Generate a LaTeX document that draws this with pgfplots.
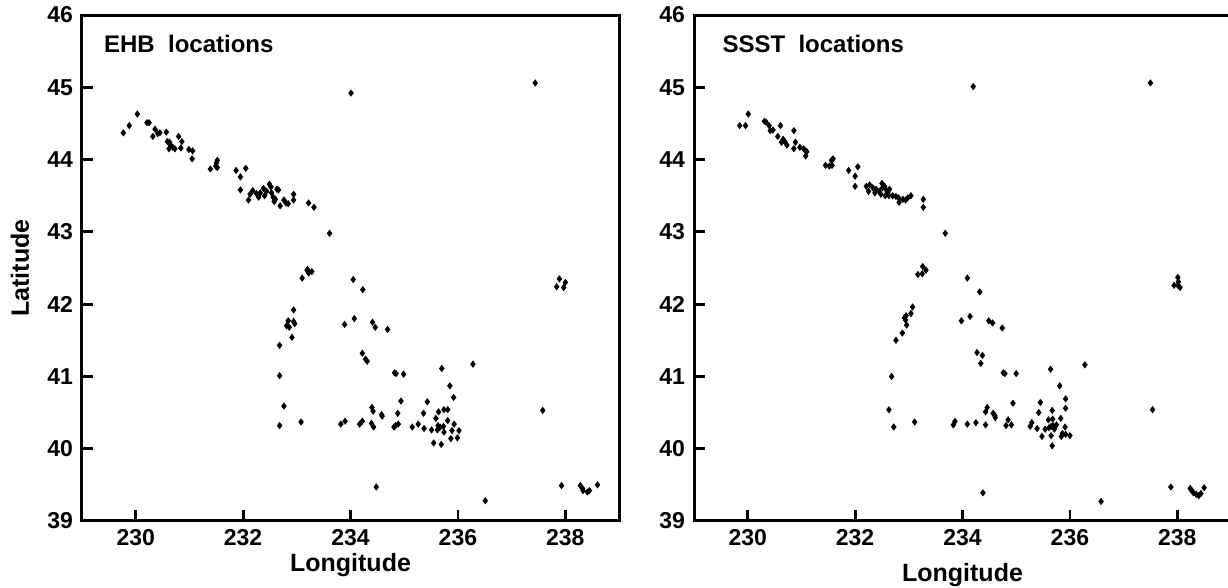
\documentclass[border=0pt]{standalone}
\usepackage{fontspec}
\setmainfont{Liberation Sans}
\usepackage{pgfplots}
\pgfplotsset{compat=1.18}
\usepackage{pgfplotstable}

\pgfplotstableread{
x y
229.77 44.37
229.88 44.47
230.03 44.63
230.21 44.51
230.25 44.51
230.36 44.42
230.32 44.32
230.41 44.36
230.45 44.37
230.57 44.38
230.59 44.25
230.63 44.24
230.65 44.20
230.62 44.15
230.69 44.17
230.73 44.15
230.80 44.32
230.86 44.25
230.84 44.16
230.99 44.14
231.06 44.12
231.05 44.01
231.39 43.87
231.50 43.95
231.52 43.99
231.49 43.91
231.52 43.89
231.87 43.85
231.95 43.76
232.05 43.88
231.95 43.58
232.10 43.44
232.13 43.52
232.18 43.57
232.25 43.53
232.29 43.48
232.32 43.54
232.38 43.60
232.40 43.50
232.44 43.56
232.49 43.66
232.52 43.62
232.53 43.54
232.56 43.48
232.58 43.42
232.63 43.59
232.66 43.58
232.60 43.45
232.69 43.36
232.76 43.44
232.80 43.40
232.84 43.39
232.94 43.44
232.94 43.52
233.22 43.40
233.32 43.34
233.61 42.98
234.01 44.92
237.44 45.06
233.20 42.48
233.22 42.43
233.28 42.45
233.19 42.47
233.10 42.36
234.05 42.34
234.23 42.20
232.94 41.92
232.84 41.77
232.94 41.76
232.96 41.73
232.81 41.70
232.86 41.68
232.91 41.54
232.68 41.43
232.68 41.01
233.89 41.72
234.07 41.80
234.41 41.75
234.46 41.68
234.69 41.65
234.22 41.32
234.28 41.24
234.31 41.21
234.82 41.05
234.85 41.04
234.99 41.03
235.70 41.11
236.28 41.17
235.85 40.87
235.92 40.71
232.76 40.59
233.08 40.37
232.68 40.32
233.82 40.34
233.90 40.38
234.17 40.34
234.22 40.38
234.40 40.57
234.42 40.52
234.39 40.35
234.43 40.30
234.58 40.47
234.59 40.45
234.94 40.66
234.88 40.49
234.81 40.30
234.84 40.32
234.89 40.34
235.15 40.30
235.26 40.34
235.37 40.28
235.43 40.65
235.36 40.49
235.51 40.26
235.59 40.42
235.64 40.51
235.74 40.54
235.81 40.54
235.63 40.32
235.62 40.26
235.67 40.30
235.73 40.31
235.74 40.23
235.81 40.39
235.89 40.25
235.93 40.34
236.02 40.25
235.87 40.14
235.99 40.15
235.55 40.08
235.69 40.06
234.48 39.47
236.51 39.28
237.89 42.35
238.00 42.30
237.84 42.24
237.97 42.23
237.58 40.53
237.93 39.49
238.28 39.49
238.32 39.45
238.33 39.42
238.41 39.40
238.45 39.42
238.60 39.50
}\ehb

\pgfplotstableread{
x y
229.85 44.47
229.96 44.47
230.01 44.63
230.31 44.53
230.34 44.52
230.40 44.47
230.42 44.40
230.47 44.41
230.56 44.32
230.61 44.47
230.63 44.24
230.66 44.28
230.69 44.25
230.73 44.20
230.86 44.40
230.89 44.24
230.86 44.15
230.97 44.17
231.04 44.15
231.08 44.12
231.10 44.11
231.08 44.05
231.45 43.92
231.52 43.91
231.56 43.99
231.59 44.01
231.57 43.92
231.88 43.85
232.00 43.77
232.05 43.90
232.00 43.63
232.21 43.63
232.27 43.65
232.25 43.56
232.33 43.61
232.37 43.54
232.39 43.59
232.45 43.56
232.50 43.67
232.51 43.61
232.55 43.63
232.58 43.58
232.48 43.52
232.56 43.50
232.61 43.54
232.64 43.59
232.63 43.50
232.70 43.50
232.76 43.49
232.81 43.47
232.82 43.41
232.89 43.45
232.94 43.44
232.98 43.47
233.04 43.50
233.27 43.45
233.27 43.34
233.68 42.98
234.20 45.01
237.50 45.06
233.26 42.52
233.32 42.47
233.25 42.42
233.17 42.41
234.09 42.36
234.32 42.17
233.07 41.96
233.04 41.87
232.95 41.84
232.92 41.81
232.94 41.78
232.96 41.71
232.88 41.60
232.76 41.50
232.68 41.00
233.98 41.77
234.14 41.83
234.49 41.77
234.56 41.74
234.74 41.67
234.27 41.33
234.37 41.29
234.34 41.18
234.76 41.05
234.79 41.04
235.00 41.04
235.64 41.10
236.28 41.16
235.81 40.87
235.92 40.69
235.92 40.56
232.63 40.54
232.72 40.30
233.11 40.37
233.83 40.33
233.86 40.38
234.09 40.34
234.25 40.36
234.43 40.33
234.43 40.51
234.46 40.57
234.57 40.49
234.60 40.46
234.61 40.43
234.81 40.32
234.85 40.40
234.91 40.33
234.94 40.63
235.26 40.31
235.29 40.36
235.39 40.28
235.42 40.50
235.45 40.64
235.48 40.17
235.54 40.27
235.60 40.40
235.67 40.53
235.68 40.41
235.61 40.29
235.65 40.31
235.69 40.32
235.71 40.27
235.75 40.33
235.65 40.18
235.67 40.04
235.83 40.42
235.84 40.17
235.86 40.21
235.91 40.30
235.92 40.20
236.00 40.18
234.38 39.39
236.58 39.27
237.54 40.54
237.88 39.47
238.24 39.45
238.27 39.42
238.30 39.39
238.35 39.37
238.40 39.35
238.44 39.38
238.50 39.46
238.01 42.37
238.02 42.31
237.94 42.26
238.01 42.26
238.05 42.23
}\ssst

\pgfplotsset{
  mapstyle/.style={
    scale only axis, width=268.5pt, height=253pt,
    xmin=229, xmax=239, ymin=39, ymax=46,
    xtick={230,232,...,238}, ytick={39,...,46},
    xtick pos=left, ytick pos=left, tick align=inside,
    major tick length=5.5pt,
    axis line style={line width=1.5pt},
    every tick/.style={black, line width=1.4pt},
    /pgf/number format/assume math mode=true,
    /pgf/number format/1000 sep={},
    tick label style={font=\bfseries\fontsize{11.5}{13}\selectfont},
    x tick label style={yshift=-0.5pt},
    y tick label style={xshift=-1pt},
  },
  pts/.style={only marks, mark=diamond*, mark size=1.5pt, black},
}

\begin{document}
\begin{tikzpicture}
\useasboundingbox (0,0) rectangle (614pt,294pt);
\begin{axis}[mapstyle, name=left, at={(41pt,33.5pt)}, anchor=south west]
  \addplot[pts] table[x=x,y=y] {\ehb};
  \node[anchor=west, font=\bfseries\fontsize{12}{14}\selectfont] at (axis description cs:0.028,0.943) {EHB\ \ locations};
\end{axis}
\node[font=\bfseries\fontsize{12.5}{14}\selectfont] at ([yshift=-22pt]left.south) {Longitude};
\node[rotate=90, font=\bfseries\fontsize{12.5}{14}\selectfont] at ([xshift=-31pt]left.west) {Latitude};
\begin{axis}[mapstyle, name=right, at={(347pt,33.5pt)}, anchor=south west]
  \addplot[pts] table[x=x,y=y] {\ssst};
  \node[anchor=west, font=\bfseries\fontsize{12}{14}\selectfont] at (axis description cs:0.04,0.943) {SSST\ \ locations};
\end{axis}
\node[font=\bfseries\fontsize{12.5}{14}\selectfont] at ([yshift=-27pt]right.south) {Longitude};
\end{tikzpicture}
\end{document}
